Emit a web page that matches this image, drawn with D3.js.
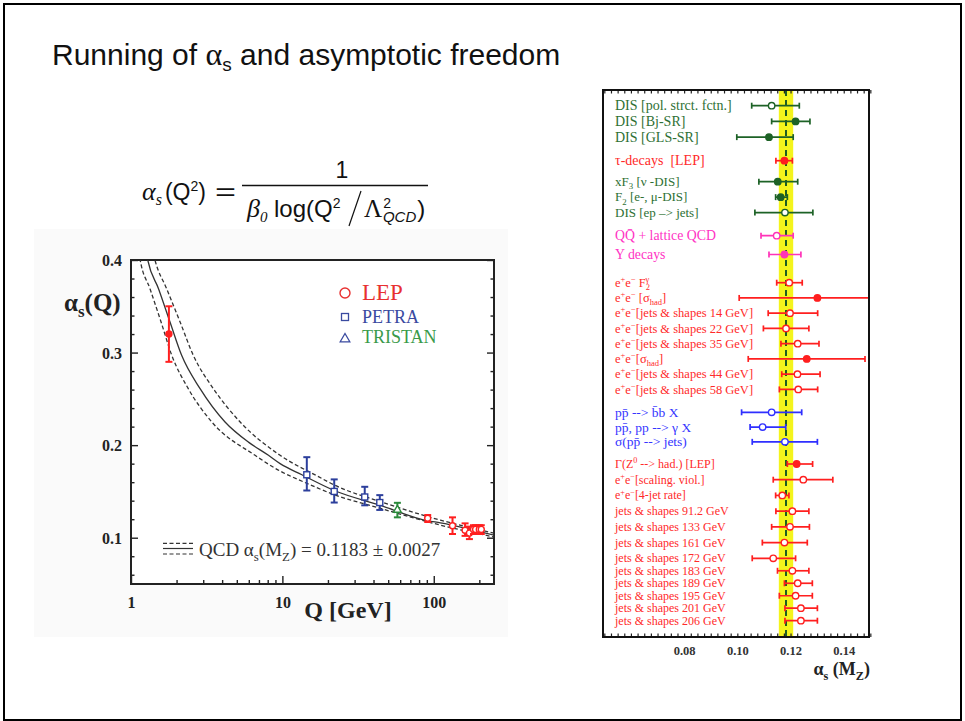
<!DOCTYPE html>
<html>
<head>
<meta charset="utf-8">
<script src="https://cdn.jsdelivr.net/npm/d3@7"></script>
<style>
  body { margin: 0; background: #fff; }
  text { white-space: pre; }
</style>
</head>
<body>
<script>
'use strict';

// ---- left plot: alpha_s(Q) measurements ----
const lepQ     = [1.78, 91.2, 133, 161, 172, 183, 189, 200, 206];
const lepAlpha = [0.320, 0.121, 0.113, 0.108, 0.105, 0.109, 0.109, 0.109, 0.109];
const lepLo    = [0.290, 0.117, 0.104, 0.102, 0.0985, 0.104, 0.104, 0.104, 0.104];
const lepHi    = [0.350, 0.1245, 0.122, 0.1155, 0.112, 0.1135, 0.1135, 0.1135, 0.1135];
const lepFilled = [true, false, false, false, false, false, false, false, false];

const petraQ     = [14.5, 22, 35, 44];
const petraAlpha = [0.168, 0.150, 0.144, 0.138];
const petraLo    = [0.151, 0.138, 0.135, 0.130];
const petraHi    = [0.187, 0.163, 0.155, 0.146];

const tristanQ     = [57.5];
const tristanAlpha = [0.130];
const tristanLo    = [0.122];
const tristanHi    = [0.1377];

// QCD curves (central, upper and lower band)
const qcdMidQ = [1.2, 1.29, 1.52, 1.81, 2.16, 2.86, 4.18, 6, 8.09, 9.66, 13.45, 22, 44.4, 91.2, 110.6, 250];
const qcdMidA = [0.43, 0.400, 0.369, 0.333, 0.297, 0.261, 0.225, 0.203, 0.189, 0.180, 0.168, 0.151, 0.135, 0.1183, 0.1161, 0.1027];
const qcdUpQ  = [1.35, 1.44, 1.72, 2.11, 2.58, 3.5, 5.26, 9.66, 17.3, 22, 44.4, 110.6, 250];
const qcdUpA  = [0.42, 0.400, 0.369, 0.333, 0.297, 0.261, 0.225, 0.189, 0.166, 0.157, 0.139, 0.119, 0.105];
const qcdLoQ  = [1.08, 1.15, 1.335, 1.58, 1.86, 2.39, 3.42, 6.6, 9.66, 13.5, 22, 44.4, 110.6, 250];
const qcdLoA  = [0.43, 0.400, 0.369, 0.333, 0.297, 0.261, 0.225, 0.189, 0.172, 0.161, 0.1465, 0.1317, 0.1136, 0.1008];

const leftYTicks = [0.1, 0.2, 0.3, 0.4];
const leftXTicks = [1, 10, 100];

// ---- right plot: alpha_s(MZ) summary ----
const rowLabels = [
  'DIS [pol. strct. fctn.]', 'DIS [Bj-SR]', 'DIS [GLS-SR]',
  'τ-decays  [LEP]',
  'xF_{3} [ν -DIS]', 'F_{2} [e-, μ-DIS]', 'DIS [ep –> jets]',
  'QQ\u0304 + lattice QCD', 'Υ decays',
  'e^{+}e^{−} F_{2}^!{γ}', 'e^{+}e^{−} [σ_{had}]',
  'e^{+}e^{−}[jets & shapes 14 GeV]', 'e^{+}e^{−}[jets & shapes 22 GeV]',
  'e^{+}e^{−}[jets & shapes 35 GeV]', 'e^{+}e^{−}[σ_{had}]',
  'e^{+}e^{−}[jets & shapes 44 GeV]', 'e^{+}e^{−}[jets & shapes 58 GeV]',
  'pp\u0304 --> b\u0304b X', 'pp\u0304, pp --> γ X', 'σ(pp\u0304 --> jets)',
  'Γ(Z^{0} --> had.) [LEP]', 'e^{+}e^{−}[scaling. viol.]', 'e^{+}e^{−}[4-jet rate]',
  'jets & shapes 91.2 GeV', 'jets & shapes 133 GeV', 'jets & shapes 161 GeV',
  'jets & shapes 172 GeV', 'jets & shapes 183 GeV', 'jets & shapes 189 GeV',
  'jets & shapes 195 GeV', 'jets & shapes 201 GeV', 'jets & shapes 206 GeV'
];
const rowGroup = [0,0,0, 1, 2,2,2, 3,3, 4,4,4,4,4,4,4,4, 5,5,5, 6,6,6,6,6,6,6,6,6,6,6,6];
const rowValue = [0.1129, 0.1219, 0.1119, 0.1177, 0.1152, 0.1163, 0.1179, 0.1148, 0.1177,
  0.1195, 0.1301, 0.1198, 0.1183, 0.1227, 0.1261, 0.1226, 0.1229,
  0.1129, 0.1095, 0.1179,
  0.1223, 0.1248, 0.1169, 0.1207, 0.1198, 0.1177, 0.1135, 0.1207, 0.1227, 0.1219, 0.1239, 0.1239];
const rowLo = [0.1054, 0.1129, 0.0998, 0.1145, 0.1081, 0.1144, 0.1066, 0.1089, 0.1119,
  0.1148, 0.1007, 0.1116, 0.1098, 0.1164, 0.1041, 0.1167, 0.1158,
  0.1016, 0.1048, 0.1056,
  0.1188, 0.1135, 0.1144, 0.1145, 0.1129, 0.1094, 0.1056, 0.1151, 0.1177, 0.1158, 0.1179, 0.1179];
const rowHi = [0.1233, 0.1273, 0.1210, 0.1207, 0.1227, 0.1188, 0.1284, 0.1210, 0.1239,
  0.1244, 0.160, 0.1302, 0.1269, 0.1307, 0.1480, 0.1311, 0.1302,
  0.1242, 0.1182, 0.1301,
  0.1283, 0.1359, 0.1194, 0.1269, 0.1271, 0.1263, 0.1219, 0.1269, 0.1282, 0.1282, 0.1301, 0.1301];
const rowFilled = [0,1,1, 1, 1,1,0, 0,1, 0,1,0,0,0,1,0,0, 0,0,0, 1,0,0,0,0,0,0,0,0,0,0,0];
const worldAverage = 0.1183;
const worldError = 0.0027;
const rightXTicks = [0.08, 0.10, 0.12, 0.14];

const groupColor = ['#2e7034', '#ff2a2a', '#2e7034', '#ff33c4', '#ff2a2a', '#3535ff', '#ff2a2a'];
const markColor  = ['#1d6226', '#ff1f1f', '#1d6226', '#ff33b8', '#ff1f1f', '#2f2fff', '#ff1f1f'];
const groupFont  = [14, 14, 13, 13.8, 12.5, 13.5, 12];

(function() {

  let svg = '';
  const serif = "'Liberation Serif', 'DejaVu Serif', serif";
  const sans = "'Liberation Sans', Arial, sans-serif";

  window.onload = function() {
    svg = d3.select('body').append('svg')
      .attr('width', 965)
      .attr('height', 721);

    // slide frame
    svg.append('rect')
      .attr('x', 4).attr('y', 4)
      .attr('width', 957).attr('height', 716)
      .attr('fill', 'white')
      .attr('stroke', 'black')
      .attr('stroke-width', 2);

    drawHeader();
    drawLeftPlot();
    drawRightPlot();
  };

  // write a string with _{sub} and ^{sup} parts as tspans
  function richText(sel, str, size) {
    let re = /([_^]!?)\{([^}]*)\}/g;
    let last = 0, shift = 0, prevLen = 0, m;
    function add(t, newShift, fs, dx) {
      sel.append('tspan')
        .attr('dy', newShift - shift)
        .attr('dx', dx || 0)
        .attr('font-size', fs)
        .text(t);
      shift = newShift;
    }
    while ((m = re.exec(str)) !== null) {
      if (m.index > last) add(str.slice(last, m.index), 0, size);
      let isSub = m[1][0] === '_';
      let dx = m[1].length > 1 ? -prevLen * size * 0.36 : 0;
      add(m[2], isSub ? size * 0.25 : -size * 0.4, size * 0.68, dx);
      prevLen = m[2].length;
      last = re.lastIndex;
    }
    if (last < str.length) add(str.slice(last), 0, size);
    return sel;
  }

  function drawHeader() {
    let title = svg.append('text')
      .attr('x', 52).attr('y', 65)
      .attr('font-family', sans)
      .attr('font-size', 30)
      .attr('fill', '#111');
    title.append('tspan').text('Running of ');
    title.append('tspan').attr('font-family', serif).attr('font-size', 32).text('α');
    title.append('tspan').attr('font-size', 19).attr('dy', 6).text('s');
    title.append('tspan').attr('dy', -6).text(' and asymptotic freedom');

    // formula
    let lhs = svg.append('text')
      .attr('x', 142).attr('y', 200)
      .attr('font-family', sans).attr('font-size', 23).attr('fill', '#111');
    lhs.append('tspan').attr('font-family', serif).attr('font-style', 'italic').attr('font-size', 26).text('α');
    lhs.append('tspan').attr('font-family', serif).attr('font-style', 'italic').attr('font-size', 16).attr('dy', 5).text('s');
    lhs.append('tspan').attr('dy', -5).attr('dx', 3).text('(Q');
    lhs.append('tspan').attr('font-size', 14).attr('dy', -9).text('2');
    lhs.append('tspan').attr('dy', 9).text(')');

    svg.append('text')
      .attr('x', 215).attr('y', 200)
      .attr('font-family', sans).attr('font-size', 23).attr('fill', '#111')
      .attr('textLength', 21).attr('lengthAdjust', 'spacingAndGlyphs')
      .text('=');

    svg.append('text')
      .attr('x', 342).attr('y', 178)
      .attr('text-anchor', 'middle')
      .attr('font-family', sans).attr('font-size', 23).attr('fill', '#111')
      .text('1');

    svg.append('line')
      .attr('x1', 242).attr('x2', 428)
      .attr('y1', 185.5).attr('y2', 185.5)
      .attr('stroke', '#111').attr('stroke-width', 1.3);

    let den = svg.append('text')
      .attr('x', 247).attr('y', 217)
      .attr('font-family', sans).attr('font-size', 24).attr('fill', '#111');
    den.append('tspan').attr('font-family', serif).attr('font-style', 'italic').attr('font-size', 26).text('β');
    den.append('tspan').attr('font-family', serif).attr('font-style', 'italic').attr('font-size', 15).attr('dy', 5).text('0');
    den.append('tspan').attr('dy', -5).attr('x', 274).text('log(Q');
    den.append('tspan').attr('font-size', 14).attr('dy', -9).text('2');
    den.append('tspan').attr('font-size', 25).attr('dy', 9).attr('x', 364).attr('font-family', serif).text('Λ');
    den.append('tspan').attr('font-size', 14).attr('dy', -9).attr('dx', 1).text('2');
    den.append('tspan').attr('font-family', sans).attr('font-style', 'italic').attr('font-size', 15)
      .attr('dx', -8).attr('dy', 14).text('QCD');
    den.append('tspan').attr('dy', -5).attr('dx', 1).text(')');

    // the long thin slash between Q^2 and Lambda
    svg.append('line')
      .attr('x1', 349).attr('y1', 226)
      .attr('x2', 361).attr('y2', 191)
      .attr('stroke', '#111').attr('stroke-width', 1.2);
  }

  function drawLeftPlot() {
    let g = svg.append('g');

    g.append('rect')
      .attr('x', 34).attr('y', 229)
      .attr('width', 474).attr('height', 408)
      .attr('fill', '#fafafa');

    let xScale = d3.scaleLog().domain([1, 250]).range([131, 494]);
    let yScale = d3.scaleLinear().domain([0.05, 0.4]).range([584, 260]);

    g.append('rect')
      .attr('x', 131).attr('y', 260)
      .attr('width', 363).attr('height', 324)
      .attr('fill', 'white');

    g.append('clipPath').attr('id', 'leftClip')
      .append('rect')
      .attr('x', 131).attr('y', 260)
      .attr('width', 363).attr('height', 324);

    // axes: major and minor ticks pointing inward
    let yMinor = d3.range(3, 20).filter(i => i % 5 !== 0).map(i => i * 0.02);
    let xMinor = xScale.ticks().filter(d => leftXTicks.indexOf(d) < 0);

    let yAxisL = g.append('g')
      .attr('transform', 'translate(131,0)')
      .call(d3.axisLeft(yScale).tickValues(leftYTicks).tickSize(-7).tickPadding(9)
        .tickFormat(d3.format('.1f')));
    g.append('g')
      .attr('transform', 'translate(131,0)')
      .call(d3.axisLeft(yScale).tickValues(yMinor).tickSize(-3.5).tickFormat(''));
    g.append('g')
      .attr('transform', 'translate(494,0)')
      .call(d3.axisRight(yScale).tickValues(leftYTicks).tickSize(-7).tickFormat(''));
    g.append('g')
      .attr('transform', 'translate(494,0)')
      .call(d3.axisRight(yScale).tickValues(yMinor).tickSize(-3.5).tickFormat(''));
    let xAxisB = g.append('g')
      .attr('transform', 'translate(0,584)')
      .call(d3.axisBottom(xScale).tickValues(leftXTicks).tickSize(-8).tickPadding(10)
        .tickFormat(d3.format('d')));
    g.append('g')
      .attr('transform', 'translate(0,584)')
      .call(d3.axisBottom(xScale).tickValues(xMinor).tickSize(-4).tickFormat(''));

    g.selectAll('.domain').remove();
    g.selectAll('.tick line').attr('stroke', '#222').attr('stroke-width', 1.4);
    g.selectAll('.tick text')
      .attr('font-family', serif)
      .attr('font-weight', 'bold')
      .attr('font-size', 16)
      .attr('fill', '#222');
    yAxisL.selectAll('.tick text').attr('dy', '0.35em');
    xAxisB.selectAll('.tick text').attr('dy', '0.85em');

    g.append('rect')
      .attr('x', 131).attr('y', 260)
      .attr('width', 363).attr('height', 324)
      .attr('fill', 'none')
      .attr('stroke', '#222')
      .attr('stroke-width', 2);

    // QCD curves
    let line = d3.line()
      .x(d => xScale(d[0]))
      .y(d => yScale(d[1]))
      .curve(d3.curveMonotoneX);
    let curves = [
      { q: qcdUpQ, a: qcdUpA, dash: '4,2.5' },
      { q: qcdMidQ, a: qcdMidA, dash: null },
      { q: qcdLoQ, a: qcdLoA, dash: '4,2.5' }
    ];
    g.append('g').attr('clip-path', 'url(#leftClip)')
      .selectAll('path')
      .data(curves)
      .enter()
      .append('path')
      .attr('d', c => line(c.q.map((q, i) => [q, c.a[i]])))
      .attr('fill', 'none')
      .attr('stroke', '#333')
      .attr('stroke-width', 1.3)
      .attr('stroke-dasharray', c => c.dash);

    // data points
    let points = [];
    lepQ.forEach((q, i) => points.push({ q: q, a: lepAlpha[i], lo: lepLo[i], hi: lepHi[i], set: 'lep', filled: lepFilled[i] }));
    petraQ.forEach((q, i) => points.push({ q: q, a: petraAlpha[i], lo: petraLo[i], hi: petraHi[i], set: 'petra' }));
    tristanQ.forEach((q, i) => points.push({ q: q, a: tristanAlpha[i], lo: tristanLo[i], hi: tristanHi[i], set: 'tristan' }));
    let colors = { lep: '#ff1f1f', petra: '#2c3f9c', tristan: '#2b8a3b' };

    let pts = g.append('g').selectAll('g')
      .data(points)
      .enter()
      .append('g')
      .attr('stroke', d => colors[d.set])
      .attr('stroke-width', 2);
    pts.append('line')
      .attr('x1', d => xScale(d.q)).attr('x2', d => xScale(d.q))
      .attr('y1', d => yScale(d.lo)).attr('y2', d => yScale(d.hi));
    pts.append('line')
      .attr('x1', d => xScale(d.q) - 3.5).attr('x2', d => xScale(d.q) + 3.5)
      .attr('y1', d => yScale(d.lo)).attr('y2', d => yScale(d.lo));
    pts.append('line')
      .attr('x1', d => xScale(d.q) - 3.5).attr('x2', d => xScale(d.q) + 3.5)
      .attr('y1', d => yScale(d.hi)).attr('y2', d => yScale(d.hi));
    pts.filter(d => d.set === 'lep').append('circle')
      .attr('cx', d => xScale(d.q)).attr('cy', d => yScale(d.a))
      .attr('r', 3)
      .attr('stroke-width', 1.4)
      .attr('fill', d => d.filled ? colors.lep : 'white');
    pts.filter(d => d.set === 'petra').append('rect')
      .attr('x', d => xScale(d.q) - 3).attr('y', d => yScale(d.a) - 3)
      .attr('width', 6).attr('height', 6)
      .attr('stroke-width', 1.4)
      .attr('fill', 'white');
    pts.filter(d => d.set === 'tristan').append('path')
      .attr('d', d3.symbol().type(d3.symbolTriangle).size(26))
      .attr('transform', d => 'translate(' + xScale(d.q) + ',' + yScale(d.a) + ')')
      .attr('stroke-width', 1.4)
      .attr('fill', 'white');

    // legend
    g.append('circle').attr('cx', 345).attr('cy', 293).attr('r', 5)
      .attr('fill', 'none').attr('stroke', '#e83030').attr('stroke-width', 1.4);
    g.append('text').attr('x', 362).attr('y', 300)
      .attr('font-family', serif).attr('font-size', 23).attr('fill', '#e83030')
      .text('LEP');
    g.append('rect').attr('x', 341.5).attr('y', 313.5).attr('width', 7).attr('height', 7)
      .attr('fill', 'none').attr('stroke', '#3a4aa0').attr('stroke-width', 1.3);
    g.append('text').attr('x', 362).attr('y', 323)
      .attr('font-family', serif).attr('font-size', 18).attr('fill', '#3a4aa0')
      .text('PETRA');
    g.append('path')
      .attr('d', d3.symbol().type(d3.symbolTriangle).size(40))
      .attr('transform', 'translate(345,339)')
      .attr('fill', 'none').attr('stroke', '#3a4aa0').attr('stroke-width', 1.3);
    g.append('text').attr('x', 362).attr('y', 343)
      .attr('font-family', serif).attr('font-size', 18).attr('fill', '#3a9a4a')
      .text('TRISTAN');

    // QCD legend
    [[543.3, '4,2.5'], [548.5, null], [554, '4,2.5']].forEach(function(l) {
      g.append('line')
        .attr('x1', 163).attr('x2', 193)
        .attr('y1', l[0]).attr('y2', l[0])
        .attr('stroke', '#333').attr('stroke-width', 1.2)
        .attr('stroke-dasharray', l[1]);
    });
    richText(g.append('text')
      .attr('x', 199).attr('y', 556)
      .attr('font-family', serif).attr('fill', '#333'),
      'QCD α_{s}(M_{Z}) = 0.1183 ± 0.0027', 19);

    // axis titles
    g.append('text')
      .attr('x', 348).attr('y', 618)
      .attr('text-anchor', 'middle')
      .attr('font-family', serif).attr('font-weight', 'bold').attr('font-size', 24)
      .attr('fill', '#222')
      .text('Q [GeV]');
    richText(g.append('text')
      .attr('x', 64).attr('y', 311)
      .attr('font-family', serif).attr('font-weight', 'bold').attr('fill', '#222'),
      'α_{s}(Q)', 25);
  }

  function drawRightPlot() {
    let g = svg.append('g');
    let left = 603, right = 869, top = 90, bottom = 637;

    let xScale = d3.scaleLinear().domain([0.0495, 0.1495]).range([left, right]);

    // row slots: one per row, half a slot extra between groups
    let slots = [];
    rowGroup.forEach(function(gr, i) {
      if (i === 0) slots.push(0);
      else slots.push(slots[i - 1] + (gr !== rowGroup[i - 1] ? 1.5 : 1));
    });
    let yScale = d3.scaleLinear()
      .domain([0, 3.5, 5, 8.5, 11, 19.5, 23, 29, 34])
      .range([105.7, 160.7, 181.7, 235.7, 282.7, 412.3, 464, 558.3, 620.7]);

    g.append('clipPath').attr('id', 'rightClip')
      .append('rect')
      .attr('x', left).attr('y', top)
      .attr('width', right - left).attr('height', bottom - top);

    // world average band
    g.append('rect')
      .attr('x', xScale(worldAverage - worldError))
      .attr('y', top)
      .attr('width', xScale(worldAverage + worldError) - xScale(worldAverage - worldError))
      .attr('height', bottom - top)
      .attr('fill', '#f4f41c');
    g.append('line')
      .attr('x1', xScale(worldAverage)).attr('x2', xScale(worldAverage))
      .attr('y1', top).attr('y2', bottom)
      .attr('stroke', '#1f5e22')
      .attr('stroke-width', 2)
      .attr('stroke-dasharray', '6,4');

    // ticks top and bottom
    let minor = d3.range(0, 41).map(i => 0.05 + i * 0.0025);
    let xAxisB = g.append('g')
      .attr('transform', 'translate(0,' + bottom + ')')
      .call(d3.axisBottom(xScale).tickValues(rightXTicks).tickSize(0).tickPadding(9)
        .tickFormat(d3.format('.2f')));
    g.append('g')
      .attr('transform', 'translate(0,' + bottom + ')')
      .call(d3.axisBottom(xScale).tickValues(minor).tickSize(-3.5).tickFormat(''));
    g.append('g')
      .attr('transform', 'translate(0,' + top + ')')
      .call(d3.axisTop(xScale).tickValues(minor).tickSize(-3.5).tickFormat(''));
    g.selectAll('.domain').remove();
    g.selectAll('.tick line').attr('stroke', '#222').attr('stroke-width', 1.2);
    xAxisB.selectAll('.tick text')
      .attr('font-family', serif)
      .attr('font-weight', 'bold')
      .attr('font-size', 12.5)
      .attr('fill', '#333');

    // rows
    let rows = rowLabels.map((label, i) => ({
      label: label, group: rowGroup[i], v: rowValue[i], lo: rowLo[i], hi: rowHi[i],
      filled: rowFilled[i], slot: slots[i]
    }));

    let rowG = g.append('g').attr('clip-path', 'url(#rightClip)')
      .selectAll('g')
      .data(rows)
      .enter()
      .append('g')
      .attr('stroke', d => markColor[d.group])
      .attr('stroke-width', 1.7);
    rowG.append('line')
      .attr('x1', d => xScale(d.lo)).attr('x2', d => xScale(d.hi))
      .attr('y1', d => yScale(d.slot)).attr('y2', d => yScale(d.slot));
    rowG.append('line')
      .attr('x1', d => xScale(d.lo)).attr('x2', d => xScale(d.lo))
      .attr('y1', d => yScale(d.slot) - 3).attr('y2', d => yScale(d.slot) + 3);
    rowG.append('line')
      .attr('x1', d => xScale(d.hi)).attr('x2', d => xScale(d.hi))
      .attr('y1', d => yScale(d.slot) - 3).attr('y2', d => yScale(d.slot) + 3);
    rowG.append('circle')
      .attr('cx', d => xScale(d.v)).attr('cy', d => yScale(d.slot))
      .attr('r', 3.2)
      .attr('stroke-width', 1.4)
      .attr('fill', d => d.filled ? markColor[d.group] : 'white');

    g.selectAll('.rowLabel')
      .data(rows)
      .enter()
      .append('text')
      .attr('class', 'rowLabel')
      .attr('x', 615)
      .attr('y', d => yScale(d.slot) + groupFont[d.group] * 0.33)
      .attr('font-family', serif)
      .attr('fill', d => groupColor[d.group])
      .each(function(d) { richText(d3.select(this), d.label, groupFont[d.group]); });

    g.append('rect')
      .attr('x', left).attr('y', top)
      .attr('width', right - left).attr('height', bottom - top)
      .attr('fill', 'none')
      .attr('stroke', '#111')
      .attr('stroke-width', 2);

    richText(g.append('text')
      .attr('x', 870).attr('y', 675)
      .attr('text-anchor', 'end')
      .attr('font-family', serif).attr('font-weight', 'bold').attr('fill', '#222'),
      'α_{s} (M_{Z})', 18);
  }

})();
</script>
</body>
</html>
